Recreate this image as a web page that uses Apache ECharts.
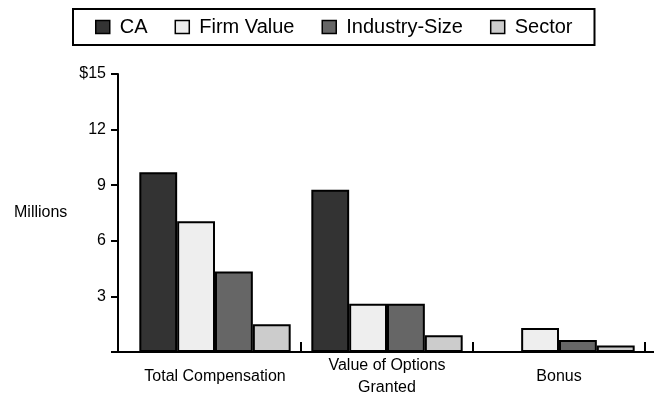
<!DOCTYPE html>
<html>
<head>
<meta charset="utf-8">
<script src="https://cdn.jsdelivr.net/npm/echarts@6/dist/echarts.min.js"></script>
<style>
  html, body { margin: 0; padding: 0; background: #fff; }
  #chart { width: 659px; height: 395px; }
</style>
</head>
<body>
<div id="chart"></div>
<script>
const categories = ['Total Compensation', 'Value of Options\nGranted', 'Bonus']
const caValues = [9.7, 8.75, 0]
const firmValues = [7.05, 2.6, 1.3]
const industryValues = [4.35, 2.6, 0.65]
const sectorValues = [1.5, 0.9, 0.35]
const seriesNames = ['CA', 'Firm Value', 'Industry-Size', 'Sector']
const seriesColors = ['#333333', '#eeeeee', '#666666', '#cccccc']
const yTicks = [0, 3, 6, 9, 12, 15]

const font = '"Liberation Sans", Arial, Helvetica, sans-serif'
let myChart = echarts.init(document.getElementById('chart'))

function makeSeries (name, data, color) {
  return {
    name: name,
    type: 'bar',
    data: data,
    barGap: 0,
    barCategoryGap: '12%',
    itemStyle: { color: color, borderColor: '#000', borderWidth: 2 },
    emphasis: { disabled: true }
  }
}

// no tick on the first category boundary (the y axis sits there)
function tickFilter (idx, label) {
  let i = (idx !== null && typeof idx === 'object') ? idx.value : idx
  if (i === 0 || label === categories[0] || idx === categories[0]) return false
  return true
}

let option = {
  animation: false,
  textStyle: { fontFamily: font },
  legend: {
    left: 73,
    top: 9,
    padding: [8, 22, 8, 22],
    itemGap: 27,
    itemWidth: 14,
    itemHeight: 13,
    icon: 'rect',
    borderColor: '#000',
    borderWidth: 2,
    itemStyle: { borderColor: '#000', borderWidth: 1.5 },
    textStyle: { fontSize: 20, color: '#000', fontFamily: font, padding: [0, 0, 0, 5] },
    data: seriesNames
  },
  grid: {
    left: 129,
    right: 14,
    top: 74,
    bottom: 43,
    containLabel: false,
    outerBoundsMode: 'none'
  },
  xAxis: {
    type: 'category',
    data: categories,
    axisLine: { lineStyle: { color: '#000', width: 2 } },
    axisTick: {
      show: true,
      inside: true,
      length: 10,
      interval: tickFilter,
      lineStyle: { color: '#000', width: 2 }
    },
    axisLabel: {
      interval: 0,
      color: '#000',
      fontSize: 16,
      fontFamily: font,
      lineHeight: 22,
      margin: 25,
      verticalAlign: 'middle'
    }
  },
  yAxis: {
    type: 'value',
    min: 0,
    max: 15,
    interval: 3,
    offset: 11,
    splitLine: { show: false },
    axisLine: { show: true, lineStyle: { color: '#000', width: 2 } },
    axisTick: { show: true, length: 7, lineStyle: { color: '#000', width: 2 } },
    axisLabel: {
      color: '#000',
      fontSize: 16,
      fontFamily: font,
      margin: 12,
      formatter: function (v) {
        if (v === 0) return ''
        if (v === yTicks[yTicks.length - 1]) return '$' + v
        return String(v)
      }
    }
  },
  graphic: [
    {
      type: 'text',
      left: 14,
      top: 205,
      style: { text: 'Millions', fill: '#000', font: '16px ' + font }
    },
    {
      type: 'line',
      shape: { x1: 117, y1: 352, x2: 654, y2: 352 },
      style: { stroke: '#000', lineWidth: 2 }
    }
  ],
  series: [
    makeSeries(seriesNames[0], caValues, seriesColors[0]),
    makeSeries(seriesNames[1], firmValues, seriesColors[1]),
    makeSeries(seriesNames[2], industryValues, seriesColors[2]),
    makeSeries(seriesNames[3], sectorValues, seriesColors[3])
  ]
}
myChart.setOption(option, true)
</script>
</body>
</html>
